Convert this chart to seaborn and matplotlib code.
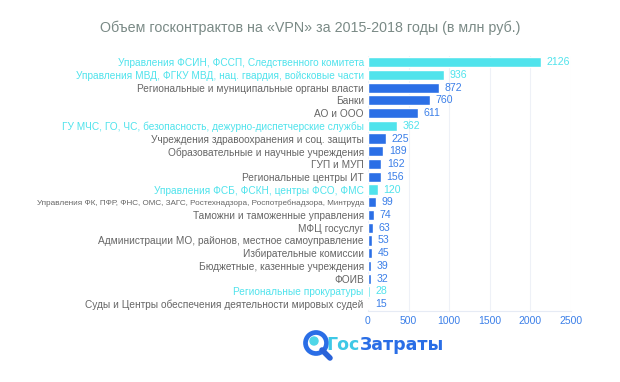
import matplotlib
matplotlib.use('Agg')
import matplotlib.pyplot as plt
from matplotlib.patches import Circle
import seaborn as sns
import pandas as pd

categories = [
    'Управления ФСИН, ФССП, Следственного комитета',
    'Управления МВД, ФГКУ МВД, нац. гвардия, войсковые части',
    'Региональные и муниципальные органы власти',
    'Банки',
    'АО и ООО',
    'ГУ МЧС, ГО, ЧС, безопасность, дежурно-диспетчерские службы',
    'Учреждения здравоохранения и соц. защиты',
    'Образовательные и научные учреждения',
    'ГУП и МУП',
    'Региональные центры ИТ',
    'Управления ФСБ, ФСКН, центры ФСО, ФМС',
    'Управления ФК, ПФР, ФНС, ОМС, ЗАГС, Ростехнадзора, Роспотребнадзора, Минтруда',
    'Таможни и таможенные управления',
    'МФЦ госуслуг',
    'Администрации МО, районов, местное самоуправление',
    'Избирательные комиссии',
    'Бюджетные, казенные учреждения',
    'ФОИВ',
    'Региональные прокуратуры',
    'Суды и Центры обеспечения деятельности мировых судей',
]
values = [2126, 936, 872, 760, 611, 362, 225, 189, 162, 156,
          120, 99, 74, 63, 53, 45, 39, 32, 28, 15]
groups = ['силовые', 'силовые', 'прочие', 'прочие', 'прочие', 'силовые',
          'прочие', 'прочие', 'прочие', 'прочие', 'силовые', 'прочие',
          'прочие', 'прочие', 'прочие', 'прочие', 'прочие', 'прочие',
          'силовые', 'прочие']
x_ticks = [0, 500, 1000, 1500, 2000, 2500]

CYAN = '#50e3ec'
BLUE = '#2b6fe6'
LBL_BLUE = '#3b7fe8'
GREY = '#666666'

df = pd.DataFrame({'cat': categories, 'val': values, 'grp': groups})

sns.set_theme(style='white')
plt.rcParams['font.family'] = ['Liberation Sans', 'DejaVu Sans']

fig = plt.figure(figsize=(6.2, 3.82), dpi=100)
ax = fig.add_axes([0.5935, 0.187, 0.3275, 0.667])

sns.barplot(data=df, x='val', y='cat', hue='grp', orient='h', dodge=False,
            palette={'силовые': CYAN, 'прочие': BLUE}, width=0.8,
            legend=False, ax=ax, saturation=1)

ax.set_xlim(0, 2500)
ax.set_xticks(x_ticks)
ax.set_xticklabels([str(t) for t in x_ticks], color=LBL_BLUE, fontsize=7.5)
ax.set_xlabel('')
ax.set_ylabel('')
ax.tick_params(axis='x', length=0, pad=4)
ax.tick_params(axis='y', length=0, pad=3)
ax.grid(axis='x', color='#eef1f7', linewidth=0.8)
ax.set_axisbelow(True)
for s in ['top', 'right', 'left']:
    ax.spines[s].set_visible(False)
ax.spines['bottom'].set_color('#e6ebf5')
ax.spines['bottom'].set_linewidth(0.8)

for lbl, g in zip(ax.get_yticklabels(), groups):
    lbl.set_color(CYAN if g == 'силовые' else GREY)
    lbl.set_fontsize(7.3)
ax.get_yticklabels()[11].set_fontsize(5.85)

for i, (v, g) in enumerate(zip(values, groups)):
    ax.text(v + 70, i, str(v), va='center', ha='left', fontsize=7.6,
            color=CYAN if g == 'силовые' else LBL_BLUE)

fig.text(0.5, 0.928, 'Объем госконтрактов на «VPN» за 2015-2018 годы (в млн руб.)',
         ha='center', va='center', fontsize=10.25, color='#7a8a86')

# logo
lax = fig.add_axes([0, 0, 1, 1])
lax.set_xlim(0, 620)
lax.set_ylim(382, 0)
lax.axis('off')
lax.plot([322, 330], [350, 358], color='#2a62d8', linewidth=4, solid_capstyle='round')
lax.add_patch(Circle((316, 343), 10.5, fill=False, edgecolor='#2a6ee6', linewidth=3.4))
lax.add_patch(Circle((314, 341), 4.0, color='#4fd6e8'))
lax.text(360, 345, 'Гос', ha='right', va='center', fontsize=12.5, fontweight='bold',
         color='#3ec8e6', family=['DejaVu Sans'])
lax.text(360, 345, 'Затраты', ha='left', va='center', fontsize=12.5, fontweight='bold',
         color='#2a6ee6', family=['DejaVu Sans'])

fig.savefig('out.png', dpi=100)
